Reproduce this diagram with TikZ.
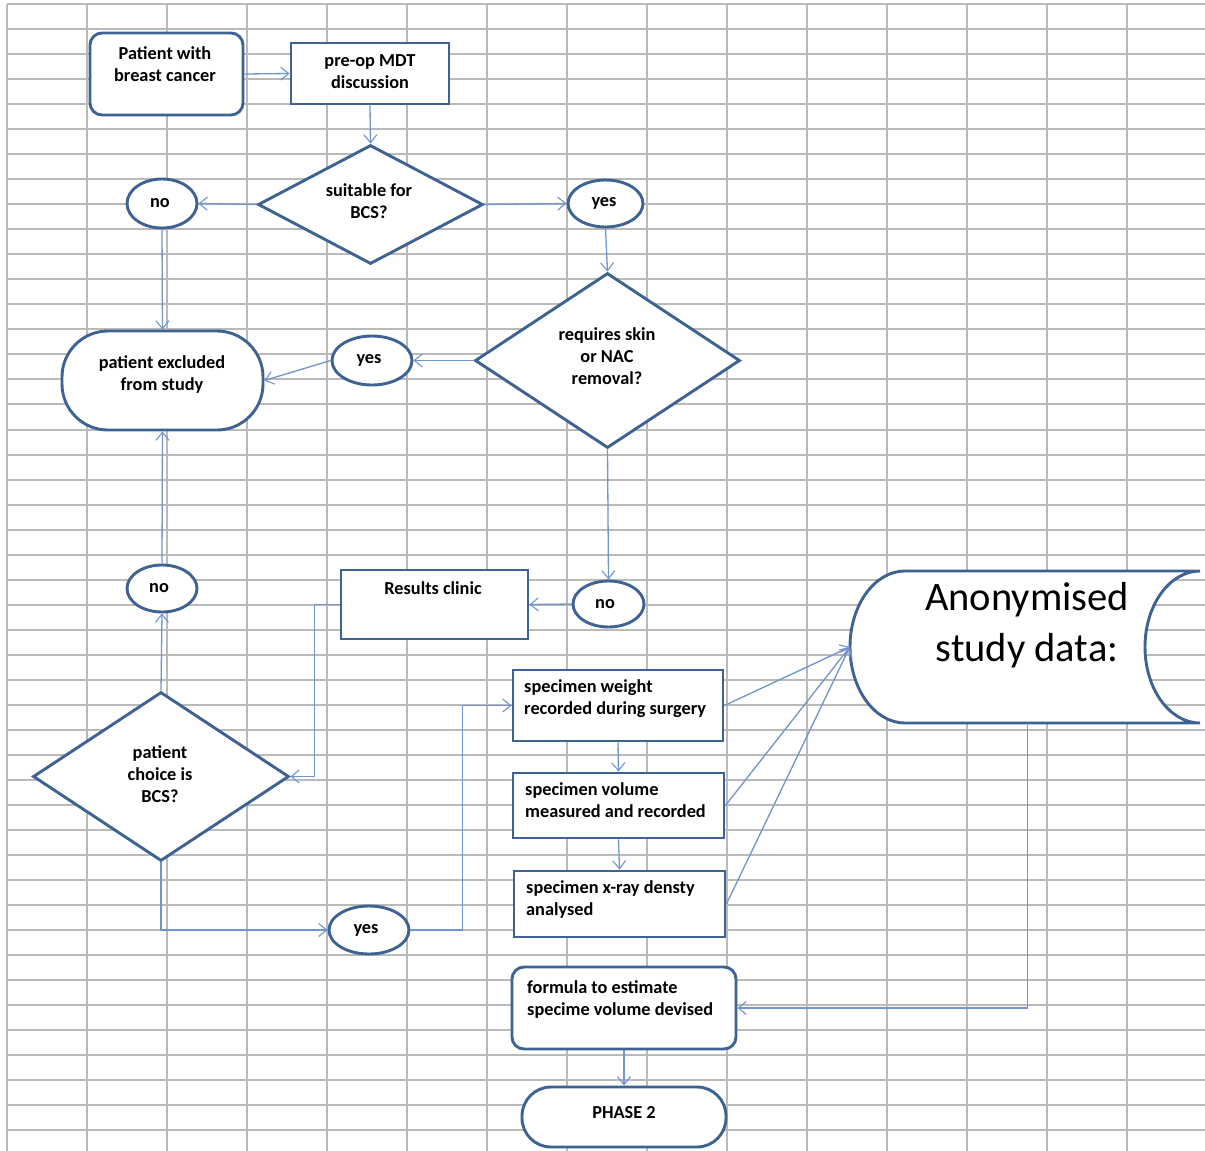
\documentclass[tikz,border=0pt]{standalone}
\usepackage{fontspec}
\setmainfont{Carlito}
\usetikzlibrary{shapes.geometric,arrows.meta}
\definecolor{border}{RGB}{62,98,145}
\definecolor{conn}{RGB}{112,148,203}
\definecolor{gridc}{RGB}{186,186,186}
\tikzset{
  box/.style={draw=border,line width=2.9pt,fill=white,inner sep=0pt},
  rbox/.style={box,rounded corners=12pt},
  dia/.style={box,diamond},
  oval/.style={box,ellipse},
  lbl/.style={font=\bfseries\fontsize{18.3}{22}\selectfont,align=center,inner sep=0pt},
  lbll/.style={font=\bfseries\fontsize{18.3}{22}\selectfont,align=left,inner sep=0pt,anchor=west},
  conn/.style={draw=conn,line width=1.3pt,-{Straight Barb[length=8pt,width=13pt,line width=1.1pt]}},
}
\begin{document}
\begin{tikzpicture}[x=1pt,y=-1pt]
\useasboundingbox (0,0) rectangle (1205,1151);
\fill[white] (0,0) rectangle (1205,1151);
% grid
\foreach \x in {7,87,...,1127} \draw[gridc,line width=2pt] (\x,4) -- (\x,1151);
\foreach \k in {0,...,45} {
  \pgfmathsetmacro\yy{4+25.03*\k}
  \draw[gridc,line width=2pt] (7,\yy) -- (1205,\yy);
}
% nodes
\node[rbox,minimum width=153pt,minimum height=82pt] (pat) at (166.5,74) {};
\node[box,minimum width=158pt,minimum height=61pt] (mdt) at (370,73.5) {};
\node[dia,minimum width=225pt,minimum height=119pt] (d1) at (370.5,204.5) {};
\node[oval,minimum width=70pt,minimum height=49pt] (no1) at (162,203.5) {};
\node[oval,minimum width=75pt,minimum height=47pt] (yes1) at (605.5,203.5) {};
\node[dia,minimum width=265pt,minimum height=175pt] (d2) at (607.5,360.5) {};
\node[oval,minimum width=80pt,minimum height=49pt] (yes2) at (372,360.5) {};
\node[box,rounded corners=46pt,minimum width=201pt,minimum height=99pt] (excl) at (162.5,380.5) {};
\node[oval,minimum width=70pt,minimum height=47pt] (no3) at (162,588.5) {};
\node[box,minimum width=187pt,minimum height=69pt] (res) at (434.5,604.5) {};
\node[oval,minimum width=71pt,minimum height=46pt] (no2) at (608.5,604) {};
\node[dia,minimum width=256pt,minimum height=169pt] (d3) at (161,776.5) {};
\node[oval,minimum width=80pt,minimum height=48pt] (yes3) at (369,930) {};
\node[box,minimum width=210pt,minimum height=71pt] (sw) at (618,705.5) {};
\node[box,minimum width=211pt,minimum height=65pt] (sv) at (618.5,805.5) {};
\node[box,minimum width=211pt,minimum height=66pt] (sx) at (619.5,904) {};
\node[rbox,minimum width=224pt,minimum height=82pt] (form) at (624,1008) {};
\node[box,rounded corners=29pt,minimum width=204pt,minimum height=60pt] (ph) at (624,1117) {};
% stored data shape
\node[inner sep=0pt,minimum width=355pt,minimum height=152pt] (anon) at (1027.5,647) {};
\draw[border,line width=2.9pt,fill=white]
  (905,571) -- (1200,571) arc[start angle=90,end angle=270,x radius=55,y radius=-76]
  -- (905,723) arc[start angle=270,end angle=90,x radius=55,y radius=-76] -- cycle;
% texts
\node[lbl] (pat-t) at (165,64) {Patient with\\breast cancer};
\node[lbl] (mdt-t) at (370,72) {pre-op MDT\\discussion};
\node[lbl] (d1-t) at (369,201.5) {suitable for\\BCS?};
\node[lbl] (no1-t) at (160,203) {no};
\node[lbl] (yes1-t) at (604,203) {yes};
\node[lbl] (d2-t) at (607,356) {requires skin\\or NAC\\removal?};
\node[lbl] (yes2-t) at (369,360) {yes};
\node[lbl] (excl-t) at (162,375) {patient excluded\\from study};
\node[lbl] (no3-t) at (159,588) {no};
\node[lbl] (res-t) at (433,588) {Results clinic};
\node[lbl] (no2-t) at (605,604) {no};
\node[lbl] (d3-t) at (160,774.5) {patient\\choice is\\BCS?};
\node[lbl] (yes3-t) at (366,930) {yes};
\node[lbll] (sw-t) at (524,699) {specimen weight\\recorded during surgery};
\node[lbll] (sv-t) at (525,800) {specimen volume\\measured and recorded};
\node[lbll] (sx-t) at (526,899.5) {specimen x-ray densty\\analysed};
\node[lbll] (form-t) at (527,999.5) {formula to estimate\\specime volume devised};
\node[lbl] (ph-t) at (624,1113) {PHASE 2};
\node[align=center,inner sep=0pt,font=\fontsize{40.5}{51}\selectfont] (anon-t) at (1027,625.5) {Anonymised\\study data:};
% connectors
\draw[conn] (pat.east) -- (mdt.west);
\draw[conn] (mdt.south) -- (d1.north);
\draw[conn] (d1.west) -- (no1.east);
\draw[conn] (d1.east) -- (yes1.west);
\draw[conn] (no1.south) -- (excl.north);
\draw[conn] (yes1.south) -- (d2.north);
\draw[conn] (d2.west) -- (yes2.east);
\draw[conn] (yes2.west) -- (excl.east);
\draw[conn] (d2.south) -- (no2.north);
\draw[conn] (no2.west) -- (res.east);
\draw[conn] (res.west) -- ++(-25,0) |- (d3.east);
\draw[conn] (d3.north) -- (no3.south);
\draw[conn] (no3.north) -- (excl.south);
\draw[conn] (d3.south) |- (yes3.west);
\draw[conn] (yes3.east) -- ++(52,0) |- (sw.west);
\draw[conn] (sw.south) -- (sv.north);
\draw[conn] (sv.south) -- (sx.north);
\draw[conn] (sw.east) -- (anon.west);
\draw[conn] (sv.east) -- (anon.west);
\draw[conn] (sx.east) -- (anon.west);
\draw[conn] (anon.south) |- (form.east);
\draw[conn] (form.south) -- (ph.north);
\end{tikzpicture}
\end{document}
